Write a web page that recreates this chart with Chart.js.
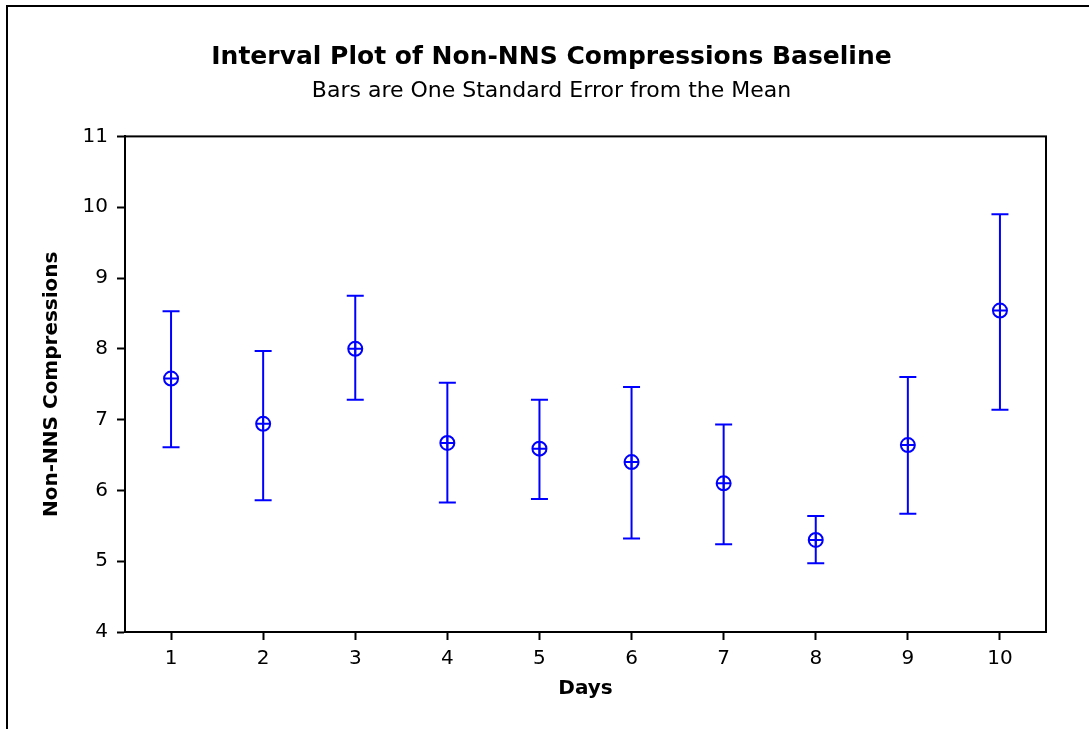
<!DOCTYPE html>
<html>
<head>
<meta charset="utf-8">
<script src="https://cdn.jsdelivr.net/npm/chart.js@4.4.0/dist/chart.umd.min.js"></script>
<style>
    html, body { margin: 0; padding: 0; background: #fff; overflow: hidden; }
    #wrap { position: relative; width: 1089px; height: 729px; }
    #frame {
        position: absolute; left: 6px; top: 5px; width: 1100px; height: 800px;
        border-left: 2px solid #000; border-top: 2px solid #000; pointer-events: none;
    }
    canvas { position: absolute; left: 0; top: 0; }
</style>
</head>
<body>
<div id="wrap">
    <canvas id="chart" width="1089" height="729"></canvas>
    <div id="frame"></div>
</div>
<script>
// Dữ liệu
const days = [1, 2, 3, 4, 5, 6, 7, 8, 9, 10];
const means = [7.58, 6.94, 8.00, 6.67, 6.59, 6.40, 6.10, 5.30, 6.64, 8.54];
const upper = [8.53, 7.97, 8.75, 7.52, 7.28, 7.46, 6.93, 5.64, 7.60, 9.90];
const lower = [6.61, 5.86, 7.28, 5.83, 5.88, 5.32, 5.24, 4.97, 5.67, 7.14];
const yTicks = [4, 5, 6, 7, 8, 9, 10, 11];

const BLUE = '#0000ff';
const FONT = "'DejaVu Sans', sans-serif";

// Khung bao quanh vùng vẽ (trên + phải)
const plotFrame = {
    id: 'plotFrame',
    afterDraw(chart) {
        const { ctx, chartArea: a } = chart;
        ctx.save();
        ctx.strokeStyle = '#000';
        ctx.lineWidth = 2;
        ctx.strokeRect(a.left, a.top, a.right - a.left, a.bottom - a.top);
        ctx.restore();
    }
};

// Mỗi ngày một thanh sai số: đoạn thẳng từ lower -> upper, nắp ngang
const errorBars = days.map((d, i) => ({
    type: 'line',
    data: [{ x: d, y: lower[i] }, { x: d, y: upper[i] }],
    borderColor: BLUE,
    borderWidth: 2,
    pointStyle: 'line',
    pointRadius: 8.5,
    pointBorderWidth: 2,
    pointBorderColor: BLUE,
    showLine: true,
    fill: false
}));

const meanPoints = days.map((d, i) => ({ x: d, y: means[i] }));

new Chart(document.getElementById('chart'), {
    type: 'scatter',
    data: {
        datasets: [
            ...errorBars,
            {
                data: meanPoints,
                pointStyle: 'circle',
                pointRadius: 7,
                pointBorderWidth: 2,
                pointBorderColor: BLUE,
                pointBackgroundColor: 'rgba(0,0,0,0)'
            },
            {
                data: meanPoints,
                pointStyle: 'cross',
                pointRadius: 7,
                pointBorderWidth: 2,
                pointBorderColor: BLUE
            }
        ]
    },
    options: {
        responsive: false,
        animation: false,
        layout: { padding: { left: 14, right: 0, top: 42, bottom: 0 } },
        plugins: {
            legend: { display: false },
            tooltip: { enabled: false },
            title: {
                display: true,
                text: 'Interval Plot of Non-NNS Compressions Baseline',
                color: '#000',
                font: { size: 25, weight: 'bold', family: FONT, lineHeight: 1.2 },
                padding: { top: 0, bottom: 6 }
            },
            subtitle: {
                display: true,
                text: 'Bars are One Standard Error from the Mean',
                color: '#000',
                font: { size: 22, family: FONT, lineHeight: 1.2 },
                padding: { top: 0, bottom: 32 }
            }
        },
        scales: {
            x: {
                type: 'linear',
                min: 0.5,
                max: 10.5,
                afterBuildTicks: (scale) => { scale.ticks = days.map(v => ({ value: v })); },
                afterFit: (scale) => { scale.height = 97; },
                ticks: {
                    color: '#000',
                    padding: 7,
                    font: { size: 20, family: FONT },
                    callback: (v) => String(v)
                },
                grid: { drawOnChartArea: false, drawTicks: true, tickLength: 8, color: '#000', tickWidth: 2 },
                border: { display: true, color: '#000', width: 2 },
                title: {
                    display: true,
                    text: 'Days',
                    color: '#000',
                    font: { size: 20, weight: 'bold', family: FONT, lineHeight: 1.2 },
                    padding: { top: 0, bottom: 28 }
                }
            },
            y: {
                min: 4,
                max: 11,
                afterBuildTicks: (scale) => { scale.ticks = yTicks.map(v => ({ value: v })); },
                afterFit: (scale) => { scale.width = 111; },
                ticks: {
                    color: '#000',
                    padding: 9,
                    font: { size: 20, family: FONT },
                    callback: (v) => String(v)
                },
                grid: { drawOnChartArea: false, drawTicks: true, tickLength: 8, color: '#000', tickWidth: 2 },
                border: { display: true, color: '#000', width: 2 },
                title: {
                    display: true,
                    text: 'Non-NNS Compressions',
                    color: '#000',
                    font: { size: 20, weight: 'bold', family: FONT, lineHeight: 1.2 },
                    padding: { top: 26, bottom: 0 }
                }
            },
            // Trục phụ bên phải chỉ để giữ khoảng trống lề phải
            yRight: {
                position: 'right',
                min: 4,
                max: 11,
                afterFit: (scale) => { scale.width = 43; },
                ticks: { display: false },
                grid: { display: false, drawTicks: false },
                border: { display: false }
            }
        }
    },
    plugins: [plotFrame]
});
</script>
</body>
</html>
